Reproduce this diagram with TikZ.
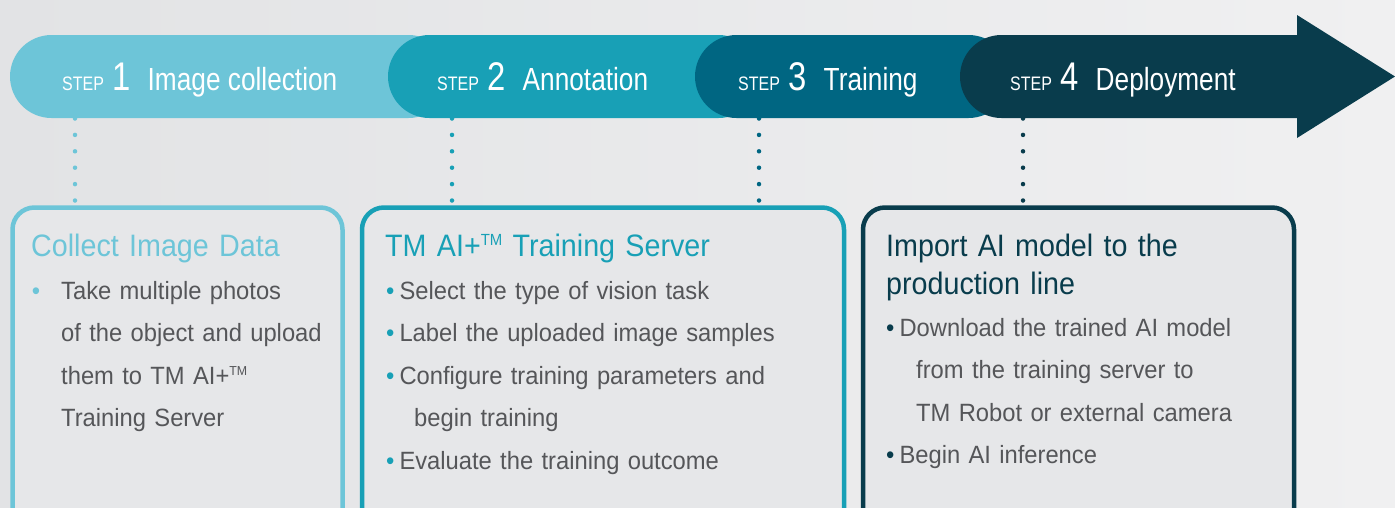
\documentclass[tikz,border=0pt]{standalone}
\usepackage{fontspec}
\usepackage{graphicx}
\setmainfont[FakeStretch=0.95]{Liberation Sans}
\newfontfamily\titlefont[FakeStretch=0.925]{Liberation Sans}
\newfontfamily\bandfont[FakeStretch=0.82]{Liberation Sans}
\usetikzlibrary{positioning}

\definecolor{stepone}{HTML}{6DC5D8}
\definecolor{steptwo}{HTML}{18A0B6}
\definecolor{stepthree}{HTML}{006682}
\definecolor{stepfour}{HTML}{093C4C}
\definecolor{bgleft}{HTML}{E2E3E5}
\definecolor{bgright}{HTML}{F0F0F1}
\definecolor{boxgray}{HTML}{E6E7E9}
\definecolor{textgray}{HTML}{555659}

\tikzset{
	band/.style={rounded corners=41.5pt},
	dotline/.style={line width=4.5pt, line cap=round, dash pattern=on 0pt off 16.4pt},
	infobox/.style={draw, line width=4.5pt, rounded corners=22pt, fill=boxgray, inner sep=0pt},
	steplabel/.style={anchor=base west, inner sep=0pt, text=white, font=\bandfont},
	boxtitle/.style={anchor=base west, inner sep=0pt, text width=420pt, align=left, font=\titlefont\fontsize{31}{38}\selectfont},
	boxtext/.style={anchor=base west, inner sep=0pt, text width=420pt, align=left, text=textgray, font=\fontsize{25}{42.5}\selectfont},
}

\newcommand{\steptag}[2]{{\fontsize{19.5}{20}\selectfont STEP}\hspace{8.5pt}{\fontsize{40}{40}\selectfont #1}\hspace{17pt}{\fontsize{32}{32}\selectfont #2}}
\newcommand{\bul}[1]{\textcolor{#1}{\textbullet}\hspace{5pt}}
\newcommand{\tmark}{\raisebox{0.34em}{\scalebox{0.52}{TM}}}

\begin{document}
\begin{tikzpicture}[x=1pt,y=-1pt]
	\useasboundingbox (0,0) rectangle (1395,507);
	\clip (0,0) rectangle (1395,507);
	\fill[left color=bgleft, right color=bgright] (0,0) rectangle (1395,507);

	% boxes
	\node[infobox, draw=stepone, minimum width=330pt, minimum height=340pt] (box1) at (177.5,377.5) {};
	\node[infobox, draw=steptwo, minimum width=482pt, minimum height=340pt] (box2) at (603,377.5) {};
	\node[infobox, draw=stepfour, minimum width=431pt, minimum height=340pt] (box3) at (1078.5,377.5) {};

	% dotted links
	\coordinate (top1) at (75,118.5);
	\coordinate (top2) at (452,118.5);
	\coordinate (top3) at (759,118.5);
	\coordinate (top4) at (1023,118.5);
	\draw[dotline, stepone] (top1) -- (top1 |- box1.north);
	\draw[dotline, steptwo] (top2) -- (top2 |- box2.north);
	\draw[dotline, stepthree] (top3) -- (top3 |- box2.north);
	\draw[dotline, stepfour] (top4) -- (top4 |- box3.north);

	% arrow band
	\fill[stepone, band] (10,35) rectangle (450,118);
	\fill[steptwo, band] (388,35) rectangle (760,118);
	\fill[stepthree, band] (695,35) rectangle (1010,118);
	\fill[stepfour, band] (960,35) rectangle (1340,118);
	\fill[stepfour] (1297,15) -- (1395,76.5) -- (1297,138) -- cycle;

	\node[steplabel] (step1) at (62,90) {\steptag{1}{Image collection}};
	\node[steplabel] (step2) at (437,90) {\steptag{2}{Annotation}};
	\node[steplabel] (step3) at (738,90) {\steptag{3}{Training}};
	\node[steplabel] (step4) at (1010,90) {\steptag{4}{Deployment}};

	% box texts
	\node[boxtitle, text=stepone] (title1) at (31,256) {Collect Image Data};
	\node[boxtext] (text1) at (61,299) {\llap{\textcolor{stepone}{\textbullet}\hspace{21pt}}Take multiple photos\\
		of the object and upload\\
		them to TM AI+\tmark\\
		Training Server};

	\node[boxtitle, text=steptwo] (title2) at (385,256) {TM AI+\tmark{} Training Server};
	\node[boxtext] (text2) at (386,299) {\bul{steptwo}Select the type of vision task\\
		\bul{steptwo}Label the uploaded image samples\\
		\bul{steptwo}Configure training parameters and\\
		\hspace*{28pt}begin training\\
		\bul{steptwo}Evaluate the training outcome};

	\node[boxtitle, text=stepfour] (title3) at (886,256) {Import AI model to the\\ production line};
	\node[boxtext] (text3) at (886,336) {\bul{stepfour}Download the trained AI model\\
		\hspace*{30pt}from the training server to\\
		\hspace*{30pt}TM Robot or external camera\\
		\bul{stepfour}Begin AI inference};
\end{tikzpicture}
\end{document}
